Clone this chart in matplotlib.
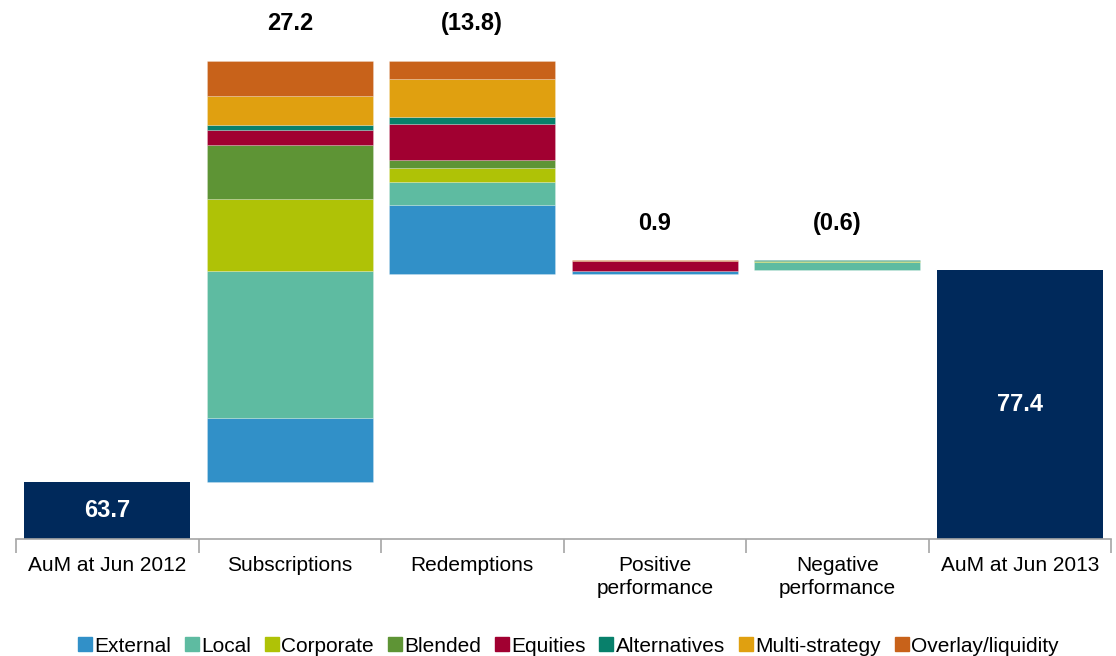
import matplotlib.pyplot as plt
import numpy as np

plt.rcParams['font.family'] = ['Liberation Sans', 'DejaVu Sans']

categories = ['AuM at Jun 2012', 'Subscriptions', 'Redemptions',
              'Positive\nperformance', 'Negative\nperformance', 'AuM at Jun 2013']
start_aum = 63.7
end_aum = 77.4

segments = ['External', 'Local', 'Corporate', 'Blended', 'Equities',
            'Alternatives', 'Multi-strategy', 'Overlay/liquidity']
subscriptions = [4.1, 9.5, 4.65, 3.5, 1.0, 0.3, 1.9, 2.25]
redemptions = [-4.5, -1.5, -0.9, -0.5, -2.3, -0.5, -2.45, -1.15]
positive_perf = [0.2, 0.0, 0.0, 0.05, 0.6, 0.0, 0.0, 0.05]
negative_perf = [0.0, -0.5, -0.05, 0.0, 0.0, -0.05, 0.0, 0.0]
change_labels = ['27.2', '(13.8)', '0.9', '(0.6)']

seg_colors = ['#3190C8', '#5EBBA1', '#AFC206', '#5E9435',
              '#A10031', '#08806B', '#E0A010', '#C8621A']
navy = '#00295B'

fig = plt.figure(figsize=(11.16, 6.56), dpi=100)
ax = fig.add_axes([16 / 1116, 1 - 539 / 656, 1095 / 1116, 539 / 656])
ymin = 60
ymax = ymin + 539 / 15.474
ax.set_ylim(ymin, ymax)
ax.set_xlim(-0.5, 5.5)
width = 0.91

# start / end bars
ax.bar(0, start_aum - ymin, bottom=ymin, width=width, color=navy)
ax.bar(5, end_aum - ymin, bottom=ymin, width=width, color=navy)
ax.text(0, (start_aum + ymin) / 2, '%.1f' % start_aum, ha='center', va='center',
        color='white', fontsize=17, fontweight='bold')
ax.text(5, (end_aum + ymin) / 2, '%.1f' % end_aum, ha='center', va='center',
        color='white', fontsize=17, fontweight='bold')

running = start_aum
for i, vals in enumerate([subscriptions, redemptions, positive_perf, negative_perf]):
    x = i + 1
    total = sum(vals)
    bottom = running if total >= 0 else running + total
    top = bottom + abs(total)
    b = bottom
    for v, c in zip(vals, seg_colors):
        if v == 0:
            continue
        ax.bar(x, abs(v), bottom=b, width=width, color=c,
               edgecolor=(1, 1, 1, 0.3), linewidth=0.5)
        b += abs(v)
    ax.text(x, top + 2.4, change_labels[i], ha='center', va='center',
            fontsize=17, fontweight='bold', clip_on=False)
    running += total

for s in ['top', 'right', 'left']:
    ax.spines[s].set_visible(False)
ax.spines['bottom'].set_color('#A6A6A6')
ax.spines['bottom'].set_linewidth(1.2)
ax.set_yticks([])
ax.set_xticks(range(6))
ax.set_xticklabels(categories, fontsize=15, linespacing=1.3)
ax.tick_params(axis='x', which='major', length=0, pad=12)
ax.set_xticks(np.arange(-0.5, 6, 1), minor=True)
ax.tick_params(axis='x', which='minor', length=10, width=1.2, color='#A6A6A6')

handles = [plt.Line2D([], [], marker='s', linestyle='', color=c, markersize=9.5)
           for c in seg_colors]
fig.legend(handles, segments, loc='center', bbox_to_anchor=(567 / 1116, 1 - 646 / 656),
           ncol=8, frameon=False, fontsize=15, handletextpad=0.0,
           columnspacing=0.55, handlelength=0.9)

fig.savefig('out.png', dpi=100)
